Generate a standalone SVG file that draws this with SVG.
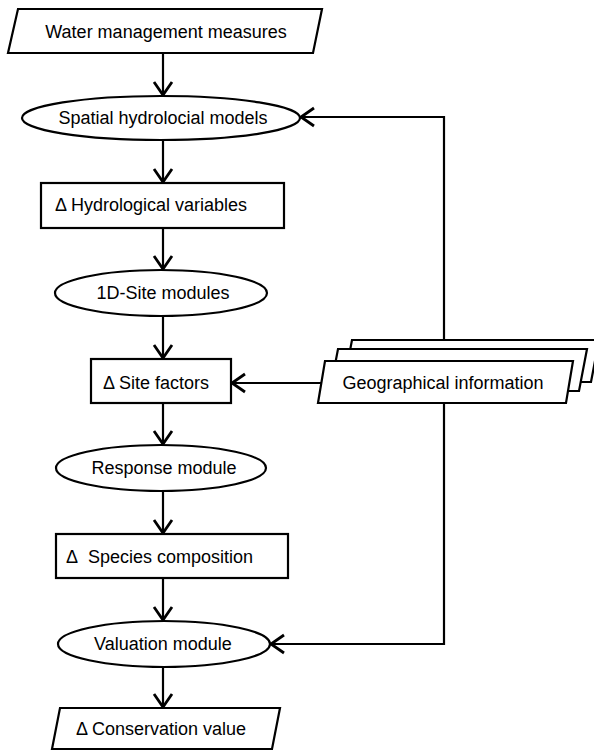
<svg xmlns="http://www.w3.org/2000/svg" width="594" height="750" viewBox="0 0 594 750">
<style>
.s{fill:#fff;stroke:#000;stroke-width:2.2}
.t{font-family:"Liberation Sans",Arial,sans-serif;font-size:18px;fill:#000}
.m{text-anchor:middle}
.c{fill:none;stroke:#000;stroke-width:2.2}
</style>
<defs>
<marker id="ah" markerUnits="userSpaceOnUse" markerWidth="30" markerHeight="30" viewBox="-15 -15 30 30" refX="0" refY="0" orient="auto">
<path d="M -13 -9 L 0 0 L -13 9" fill="none" stroke="#000" stroke-width="2.8" stroke-linejoin="miter"/>
</marker>
</defs>
<rect width="594" height="750" fill="#fff"/>
<g id="connectors">
<path class="c" d="M163 53 V95" marker-end="url(#ah)"/>
<path class="c" d="M163 140 V182" marker-end="url(#ah)"/>
<path class="c" d="M163 228 V269" marker-end="url(#ah)"/>
<path class="c" d="M163 316 V358" marker-end="url(#ah)"/>
<path class="c" d="M163 403 V444" marker-end="url(#ah)"/>
<path class="c" d="M163 491 V533" marker-end="url(#ah)"/>
<path class="c" d="M163 578 V620" marker-end="url(#ah)"/>
<path class="c" d="M163 667 V707" marker-end="url(#ah)"/>
<path class="c" d="M444 340 V117 H301" marker-end="url(#ah)"/>
<path class="c" d="M321 383 H232" marker-end="url(#ah)"/>
<path class="c" d="M444 403 V644 H271" marker-end="url(#ah)"/>
</g>
<g id="water">
<polygon class="s" points="18,9 322,9 313,53 8,53"/>
<text class="t m" x="166" y="38">Water management measures</text>
</g>
<g id="spatial">
<ellipse class="s" cx="161" cy="118" rx="139" ry="22"/>
<text class="t m" x="163" y="124">Spatial hydrolocial models</text>
</g>
<g id="hydro">
<rect class="s" x="41" y="183" width="243" height="45"/>
<text class="t" x="55" y="211">Δ Hydrological variables</text>
</g>
<g id="site1d">
<ellipse class="s" cx="161" cy="293" rx="106" ry="23"/>
<text class="t m" x="163" y="299">1D-Site modules</text>
</g>
<g id="sitefactors">
<rect class="s" x="91" y="359" width="140" height="44"/>
<text class="t" x="103" y="389">Δ Site factors</text>
</g>
<g id="geo">
<polygon class="s" points="352,340 599,340 591,382 344,382"/>
<polygon class="s" points="338,349 587,349 579,391 330,391"/>
<polygon class="s" points="325,361 573,361 566,403 318,403"/>
<text class="t m" x="443" y="389">Geographical information</text>
</g>
<g id="response">
<ellipse class="s" cx="161" cy="468" rx="105" ry="23"/>
<text class="t m" x="164" y="474">Response module</text>
</g>
<g id="species">
<rect class="s" x="56" y="534" width="232" height="44"/>
<text class="t" x="66" y="563">Δ&#160; Species composition</text>
</g>
<g id="valuation">
<ellipse class="s" cx="164" cy="644" rx="106" ry="23"/>
<text class="t m" x="163" y="650">Valuation module</text>
</g>
<g id="conservation">
<polygon class="s" points="60,708 280,708 272,749 52,749"/>
<text class="t m" x="161" y="735">Δ Conservation value</text>
</g>
</svg>
